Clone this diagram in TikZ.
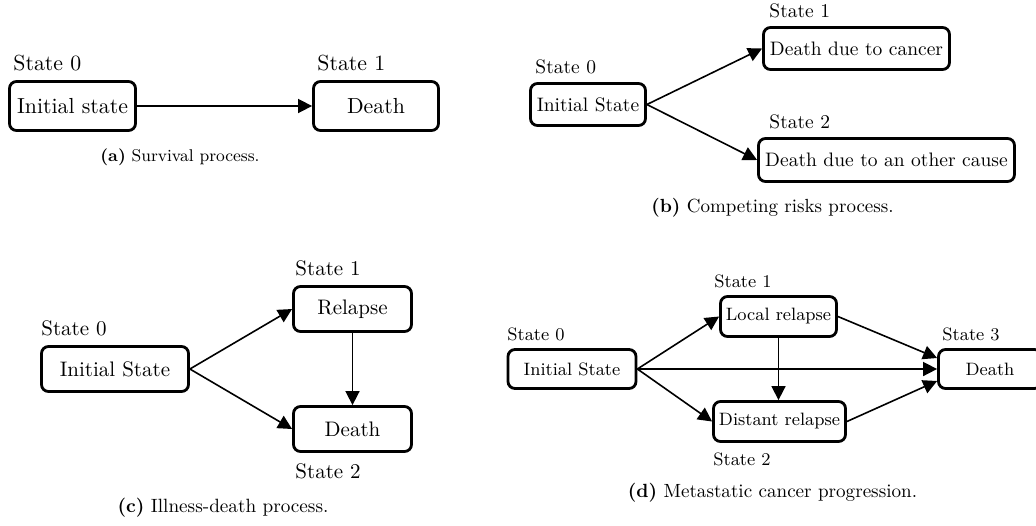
\documentclass[tikz,border=0pt]{standalone}
\usepackage{tikz}
\usetikzlibrary{arrows.meta}

\tikzset{
  state/.style={draw, line width=1.4pt, rounded corners=3.5pt, inner sep=0pt, align=center},
  statelbl/.style={anchor=base west, inner sep=0pt},
  trans/.style={-{Triangle[length=7pt,width=7pt]}, line width=0.8pt},
  subcap/.style={inner sep=0pt, font=\fontsize{#1}{11}\selectfont},
}

\begin{document}
\begin{tikzpicture}[x=0.5pt, y=-0.5pt]
    \useasboundingbox (0,0) rectangle (1036,525);

    % (a) Survival process
    \begin{scope}[font=\fontsize{10.9}{13}\selectfont]
        \node[state, minimum width=63pt, minimum height=24.5pt] (a0) at (72.5,106) {Initial state};
        \node[state, minimum width=62.5pt, minimum height=24.5pt] (a1) at (376,106) {Death};
        \node[statelbl] (a0lbl) at (13,70) {State 0};
        \node[statelbl] (a1lbl) at (317,70) {State 1};
        \draw[trans] (a0) -- (a1);
    \end{scope}
    \node[subcap=8.5] (acap) at (180,157) {\textbf{(a)} Survival process.};

    % (b) Competing risks process
    \begin{scope}[font=\fontsize{9.75}{12}\selectfont]
        \node[state, minimum width=57.5pt, minimum height=21pt] (b0) at (588,104.5) {Initial State};
        \node[state, minimum width=93pt, minimum height=21pt] (b1) at (856.5,48.5) {Death due to cancer};
        \node[state, minimum width=128pt, minimum height=21.5pt] (b2) at (886.5,160) {Death due to an other cause};
        \node[statelbl] (b0lbl) at (535,73) {State 0};
        \node[statelbl] (b1lbl) at (769,17) {State 1};
        \node[statelbl] (b2lbl) at (769,128) {State 2};
        \draw[trans] (b0.east) -- (b1.west);
        \draw[trans] (b0.east) -- (b2.west);
    \end{scope}
    \node[subcap=9.5] (bcap) at (772.5,208) {\textbf{(b)} Competing risks process.};

    % (c) Illness-death process
    \begin{scope}[font=\fontsize{10.5}{13}\selectfont]
        \node[state, minimum width=73.5pt, minimum height=22.5pt] (c0) at (115,369) {Initial State};
        \node[state, minimum width=59pt, minimum height=22.5pt] (c1) at (352.5,309) {Relapse};
        \node[state, minimum width=59pt, minimum height=22.5pt] (c2) at (352.5,429) {Death};
        \node[statelbl] (c0lbl) at (41,335) {State 0};
        \node[statelbl] (c1lbl) at (295,275) {State 1};
        \node[statelbl] (c2lbl) at (295,478) {State 2};
        \draw[trans] (c0.east) -- (c1.west);
        \draw[trans] (c0.east) -- (c2.west);
        \draw[trans] (c1) -- (c2);
    \end{scope}
    \node[subcap=9.6] (ccap) at (223,508) {\textbf{(c)} Illness-death process.};

    % (d) Metastatic cancer progression
    \begin{scope}[font=\fontsize{8.95}{11}\selectfont]
        \node[state, minimum width=64pt, minimum height=19.5pt] (d0) at (572,369) {Initial State};
        \node[state, minimum width=58pt, minimum height=20pt] (d1) at (778.5,316.5) {Local relapse};
        \node[state, minimum width=66pt, minimum height=20pt] (d2) at (779.5,421.5) {Distant relapse};
        \node[state, minimum width=51.5pt, minimum height=19.5pt] (d3) at (990,369) {Death};
        \node[statelbl] (d0lbl) at (507,340) {State 0};
        \node[statelbl] (d1lbl) at (714,287) {State 1};
        \node[statelbl] (d2lbl) at (713,465) {State 2};
        \node[statelbl] (d3lbl) at (942,340) {State 3};
        \draw[trans] (d0.east) -- (d1.west);
        \draw[trans] (d0.east) -- (d2.west);
        \draw[trans] (d0.east) -- (d3.west);
        \draw[trans] (d1.east) -- ([yshift=5.5pt]d3.west);
        \draw[trans] (d2.east) -- ([yshift=-6pt]d3.west);
        \draw[trans] (d1.south) -- (d1.south |- d2.north);
    \end{scope}
    \node[subcap=9.55] (dcap) at (772.5,493) {\textbf{(d)} Metastatic cancer progression.};
\end{tikzpicture}
\end{document}
